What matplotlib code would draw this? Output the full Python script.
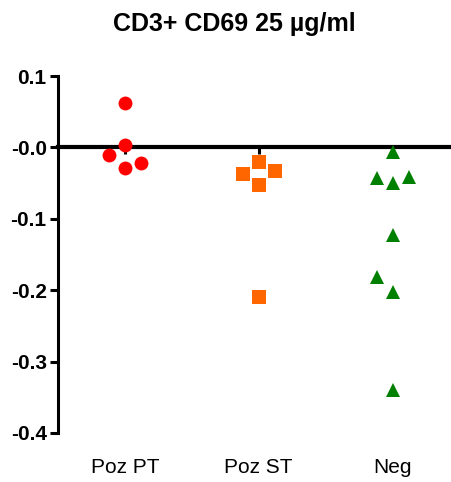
import numpy as np
import matplotlib
matplotlib.use("Agg")
import matplotlib.pyplot as plt

plt.rcParams['font.family'] = ['Liberation Sans', 'DejaVu Sans']

# data
groups = ['Poz PT', 'Poz ST', 'Neg']
poz_pt = [0.062, 0.003, -0.011, -0.022, -0.029]
poz_pt_jit = [0, 0, -1, 1, 0]
poz_st = [-0.020, -0.037, -0.033, -0.053, -0.210]
poz_st_jit = [0, -1, 1, 0, 0]
neg = [-0.007, -0.043, -0.050, -0.041, -0.123, -0.182, -0.203, -0.340]
neg_jit = [0, -1, 0, 1, 0, -1, 0, 0]

series = [
    (poz_pt, poz_pt_jit, 'o', '#FF0000'),
    (poz_st, poz_st_jit, 's', '#FF6600'),
    (neg, neg_jit, '^', '#008000'),
]

fig = plt.figure(figsize=(4.52, 4.82), dpi=100)
ax = fig.add_axes([0.128, 0.1017, 0.868, 0.7406])

jit_step = 0.12
for i, (vals, jit, mk, col) in enumerate(series):
    xs = i + np.array(jit) * jit_step
    ax.plot(xs, vals, linestyle='none', marker=mk, color=col,
            markersize=10, markeredgewidth=0, zorder=3)

ax.set_xlim(-0.5, 2.43)
ax.set_ylim(-0.4, 0.1)
ax.set_yticks([0.1, 0.0, -0.1, -0.2, -0.3, -0.4])
ax.set_yticklabels(['0.1', '-0.0', '-0.1', '-0.2', '-0.3', '-0.4'],
                   fontsize=15, fontweight='bold')

# x axis drawn at zero like the original
ax.spines['bottom'].set_position(('data', 0))
ax.spines['bottom'].set_linewidth(3)
ax.spines['bottom'].set_bounds(-0.5, 2.43)
ax.spines['left'].set_linewidth(2.2)
ax.spines['top'].set_visible(False)
ax.spines['right'].set_visible(False)
ax.set_xticks(range(len(groups)))
ax.set_xticklabels([])
ax.tick_params(axis='x', direction='out', length=5, width=2.2)
ax.tick_params(axis='y', direction='out', length=6, width=2.2, pad=2)

sec = ax.secondary_xaxis(0.0)
sec.set_xticks(range(len(groups)))
sec.set_xticklabels(groups, fontsize=15)
sec.spines['bottom'].set_visible(False)
sec.tick_params(length=0, pad=18)

fig.text(0.519, 0.95, 'CD3+ CD69 25 µg/ml', ha='center', va='center',
         fontsize=18, fontweight='bold')

fig.savefig('out.png', dpi=100)
